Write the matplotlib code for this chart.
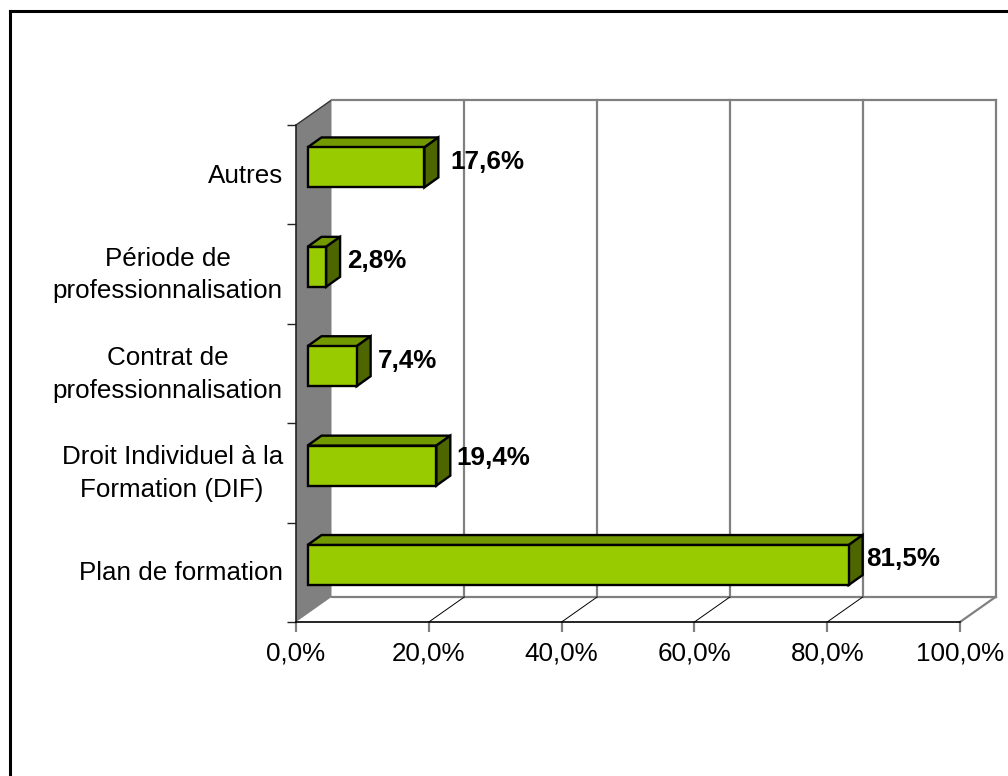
import matplotlib
matplotlib.use("Agg")
import matplotlib.pyplot as plt
from matplotlib.lines import Line2D
from matplotlib.patches import Polygon
from matplotlib.transforms import ScaledTranslation

categories = ["Plan de formation", "Droit Individuel à la\nFormation (DIF)",
              "Contrat de\nprofessionnalisation", "Période de\nprofessionnalisation", "Autres"]
values = [81.5, 19.4, 7.4, 2.8, 17.6]
value_labels = ["81,5%", "19,4%", "7,4%", "2,8%", "17,6%"]
x_ticks = [0, 20, 40, 60, 80, 100]
x_tick_labels = ["0,0%", "20,0%", "40,0%", "60,0%", "80,0%", "100,0%"]

W, H = 1008, 776
X0, X1, Y0, Y1 = 296, 960, 622, 125          # pixel box of the front axes
PXX = (X1 - X0) / 100
PXY = (Y0 - Y1) / 5
DX, DY = 35.5 / PXX, 25 / PXY                # 3D wall depth
BDX, BDY = 14 / PXX, 10 / PXY                # bar depth
B_LEFT = 11.5 / PXX
B_H = 40 / PXY
B_OFF = 0.573
LABEL_PAD = [3.5, 6.5, 7.5, 7.5, 12.5]       # px gap right of each bar
LABEL_RISE = [6.5, 8, 5.5, 5.5, 5.5]         # px above bar centre
FS = 18.7

plt.rcParams["font.family"] = ["Liberation Sans", "DejaVu Sans"]
fig = plt.figure(figsize=(W / 100, H / 100), dpi=100, facecolor="white")
ax = fig.add_axes([X0 / W, 1 - Y0 / H, (X1 - X0) / W, (Y0 - Y1) / H])
ax.set_xlim(0, 100)
ax.set_ylim(0, 5)
ax.patch.set_visible(False)
for s in ("top", "right"):
    ax.spines[s].set_visible(False)
ax.spines["left"].set_color("#222222")
ax.spines["bottom"].set_color("black")
ax.spines["left"].set_linewidth(1.2)
ax.spines["bottom"].set_linewidth(1.2)

GRID = "#808080"
GLW = 1.6
# side wall
ax.add_patch(Polygon([(0, 0), (DX, DY), (DX, 5 + DY), (0, 5)], closed=True,
                     fc="#808080", ec="none", clip_on=False, zorder=0.5))
ax.plot([0, DX], [5, 5 + DY], color="#333333", lw=1.0, clip_on=False, zorder=0.6)
# back wall gridlines and top/bottom
for t in x_ticks[1:]:
    ax.plot([t + DX, t + DX], [DY, 5 + DY], color=GRID, lw=GLW, clip_on=False, zorder=0.7)
ax.plot([DX, 100 + DX], [5 + DY, 5 + DY], color=GRID, lw=GLW, clip_on=False, zorder=0.7)
ax.plot([DX, 100 + DX], [DY, DY], color=GRID, lw=GLW, clip_on=False, zorder=0.7)
# floor diagonals
for t in x_ticks[1:-1]:
    ax.plot([t, t + DX], [0, DY], color="black", lw=0.7, clip_on=False, zorder=0.7)
ax.plot([100, 100 + DX], [0, DY], color=GRID, lw=GLW, clip_on=False, zorder=0.7)

# bars
ys = [i + B_OFF for i in range(len(values))]
ax.barh(ys, values, left=B_LEFT, height=B_H, color="#99CC00", edgecolor="black",
        linewidth=1.7, zorder=3, clip_on=False)
for y, v, lab, pad, rise in zip(ys, values, value_labels, LABEL_PAD, LABEL_RISE):
    xr = B_LEFT + v
    top, bot = y + B_H / 2, y - B_H / 2
    ax.add_patch(Polygon([(B_LEFT, top), (B_LEFT + BDX, top + BDY), (xr + BDX, top + BDY), (xr, top)],
                         closed=True, fc="#739900", ec="black", lw=1.7, zorder=2.5, clip_on=False))
    ax.add_patch(Polygon([(xr, bot), (xr + BDX, bot + BDY), (xr + BDX, top + BDY), (xr, top)],
                         closed=True, fc="#4D6600", ec="black", lw=1.7, zorder=2.5, clip_on=False))
    ax.text(xr + BDX + pad / PXX, y + rise / PXY, lab, fontsize=FS, fontweight="bold",
            ha="left", va="center", color="black", zorder=4, clip_on=False)

# axes ticks
ax.set_xticks(x_ticks)
ax.set_xticklabels(x_tick_labels, fontsize=FS, color="black")
ax.tick_params(axis="x", length=7.2, width=1.6, color=GRID, pad=6.5)
ax.set_yticks(range(6))
ax.set_yticklabels([])
ax.tick_params(axis="y", which="major", length=6.5, width=1.0, color="#222222")
ax.set_yticks([i + 0.5 for i in range(5)], minor=True)
ax.set_yticklabels(categories, minor=True, fontsize=FS, color="black",
                   ha="right", multialignment="center", linespacing=1.45)
ax.tick_params(axis="y", which="minor", length=0, pad=9.5)
for lbl, cat in zip(ax.get_yticklabels(minor=True), categories):
    rise_px = 6 if "\n" in cat else 1.5
    lbl.set_transform(lbl.get_transform() + ScaledTranslation(0, rise_px / 100, fig.dpi_scale_trans))

# chart frame: only top and left edges fall inside the picture
fig.add_artist(Line2D([10 / W, 10 / W], [0, 1 - 11 / H], color="black", lw=2.2))
fig.add_artist(Line2D([10 / W, 1], [1 - 11 / H, 1 - 11 / H], color="black", lw=2.2))

fig.savefig("out.png", dpi=100)
